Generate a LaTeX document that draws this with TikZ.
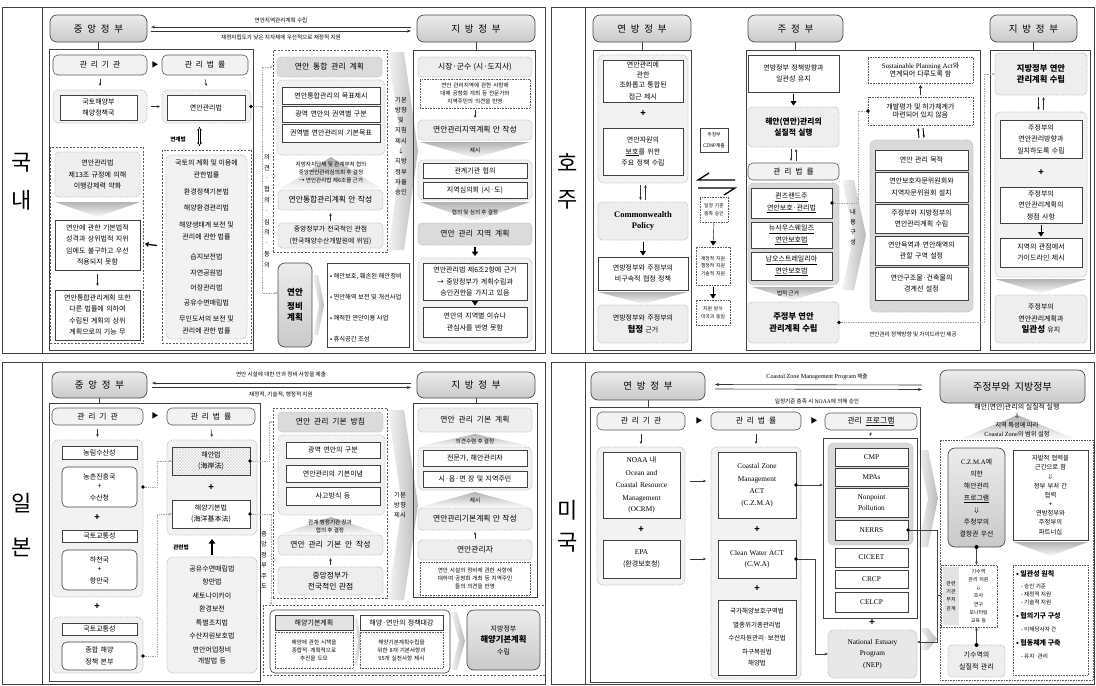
\documentclass[tikz,border=0pt]{standalone}
\usepackage{fontspec}
\setmainfont{Noto Sans CJK KR}
\newfontfamily\lat{Liberation Serif}
\usetikzlibrary{arrows.meta,patterns,calc}
\newcommand\fs{\fontsize{7}{11.5}\selectfont}
\newcommand\fsm{\fontsize{5.6}{8}\selectfont}
\newcommand\fxs{\fontsize{4.8}{6.5}\selectfont}
\newcommand\fm{\fontsize{7.8}{10}\selectfont}
\newcommand\ft{\fontsize{9.5}{11}\selectfont}
\newcommand\fbig{\fontsize{22}{22}\selectfont}
\newcommand\gp{\hspace{0.5em}}
\newcommand\bx[7]{%
  \pgfmathsetmacro\bcx{(#3+#5)/2}%
  \pgfmathsetmacro\bcy{(#4+#6)/2}%
  \pgfmathsetmacro\bw{#5-#3}%
  \pgfmathsetmacro\bh{#6-#4}%
  \pgfmathsetmacro\btw{max(\bw-3,2)}%
  \node[#1,minimum width=\bw pt,minimum height=\bh pt,text width=\btw pt] (#2) at (\bcx,\bcy) {#7};}
\newcommand\wdn[4]{\pgfmathsetmacro\wm{(#1+#3)/2}%
  \shade[top color=gray!60,bottom color=gray!4] (#1,#2) -- (#3,#2) -- (\wm,#4) -- cycle;}
\newcommand\wup[4]{\pgfmathsetmacro\wm{(#1+#3)/2}%
  \shade[top color=gray!60,bottom color=gray!4] (#1,#4) -- (#3,#4) -- (\wm,#2) -- cycle;}
\newcommand\chev[5]{\pgfmathsetmacro\chm{(#2+#4)/2}\pgfmathsetmacro\cha{#3-#5}\pgfmathsetmacro\chb{#1+#5}%
  \shade[left color=gray!8,right color=gray!55] (#1,#2) -- (\cha,#2) -- (#3,\chm) -- (\cha,#4) -- (#1,#4) -- (\chb,\chm) -- cycle;}
\newcommand\updn[2]{%
  \draw[sarr] ($(#1.south)+(-2.5,2)$) -- ($(#2.north)+(-2.5,-2)$);
  \draw[sarr] ($(#2.north)+(2.5,-2)$) -- ($(#1.south)+(2.5,2)$);}
\tikzset{
 base/.style={inner sep=0pt,outer sep=0pt,align=center,font=\fs},
 wb/.style={base,draw=black!75,fill=white,line width=0.6pt},
 wbr/.style={wb,rounded corners=5pt},
 gv/.style={base,draw=black!70,rounded corners=7pt,top color=gray!15,bottom color=gray!42,font=\ft,line width=0.7pt},
 hd/.style={base,draw=black!65,rounded corners=5pt,fill=gray!10,font=\fm,line width=0.6pt},
 lg/.style={base,draw=gray!55,densely dotted,rounded corners=4pt,fill=gray!13,line width=0.8pt},
 mg/.style={lg,fill=gray!28},
 dreg/.style={base,draw=gray!55,densely dotted,rounded corners=6pt,fill=gray!10,line width=0.8pt},
 dgreg/.style={dreg,fill=gray!30},
 dashbox/.style={base,draw=black!65,dash pattern=on 2pt off 1.5pt,line width=0.5pt},
 dotb/.style={base,draw=black!65,densely dotted,fill=white,line width=0.6pt,font=\fsm},
 frm/.style={base,draw=black!75,line width=0.6pt},
 txt/.style={base},
 pls/.style={base,font=\fontsize{9}{9}\selectfont\bfseries},
 stxt/.style={base,font=\fsm},
 big/.style={base,font=\fbig},
 sarr/.style={draw=black!80,line width=0.5pt,-{Stealth[length=3pt,width=2.6pt]}},
 tri/.style={draw=black,line width=0.4pt,-{Triangle[length=4.5pt,width=6pt]},shorten <=1.5pt,shorten >=1.5pt},
 fat/.style={draw=black,line width=1.8pt,-{Triangle[length=4.5pt,width=6.5pt]}},
 dotc/.style={draw=gray!70,densely dotted,line width=0.7pt},
 lnk/.style={draw=black!75,line width=0.6pt},
 harr/.style={draw=black!80,line width=0.6pt,-{Stealth[length=4pt,width=3pt]}},
}
\begin{document}
\begin{tikzpicture}[x=1pt,y=-1pt]
\useasboundingbox (0,0) rectangle (1096,686);
\fill[white] (0,0) rectangle (1096,686);

% ================= KOREA =================
\bx{frm,line width=0.9pt}{kPan}{2}{7}{545}{353}{}
\draw[lnk] (42,7) -- (42,353);
\node[big] (kN1) at (22,163) {국};
\node[big] (kN2) at (22,200) {내};
\wdn{55}{202}{140}{217}
\wup{280}{157}{382}{189}
\wdn{420}{142}{530}{158}
\wdn{420}{202}{530}{221}
\chev{388}{52}{418}{250}{14}
\chev{313}{275}{324}{335}{6}
\bx{gv}{kC}{50}{15}{147}{42}{중\gp 앙\gp 정\gp 부}
\bx{gv}{kL}{417}{15}{535}{42}{지\gp 방\gp 정\gp 부}
\draw[harr] ($(kL.west)+(-6,-1.5)$) -- ($(kC.east)+(4,-1.5)$);
\draw[harr] ($(kC.east)+(4,2.5)$) -- ($(kL.west)+(-6,2.5)$);
\node[stxt] (kA1) at (281,20) {연안지역관리계획 수립};
\node[stxt] (kA2) at (281,37) {재정자립도가 낮은 지자체에 우선적으로 재정적 지원};
\bx{frm}{kF}{49}{49}{253}{350}{}
\draw[lnk] (kC.south) -- (kC.south |- kF.north);
\bx{hd}{kH1}{53}{55}{147}{75}{관\gp 리\gp 기\gp 관}
\bx{hd}{kH2}{162}{55}{248}{75}{관\gp 리\gp 법\gp 률}
\node[base,font=\fontsize{7}{7}\selectfont] (kT1) at (155,65) {▶};
\bx{dreg}{kR1}{53}{90}{147}{123}{}
\bx{wb}{kMOF}{60}{95}{137}{120}{국토해양부\\해양정책국}
\bx{dreg}{kR2}{162}{90}{251}{123}{}
\bx{wb}{kLaw}{167}{95}{245}{120}{연안관리법}
\draw[sarr] (kH1.south) ++(0,4) -- ($(kR1.north)+(0,-4)$);
\draw[sarr] (kH2.south) ++(0,4) -- ($(kR2.north)+(0,-4)$);
\draw[sarr] ($(kR1.east)+(4,0)$) -- ($(kR2.west)+(-2,0)$);
\node[stxt,font=\fsm\bfseries] (kLk) at (178,139) {연계법};
\bx{dashbox}{kR3}{162}{150}{251}{343}{}
\bx{dreg}{kR3i}{166}{155}{247}{339}{}
\draw[{Implies}-{Implies},double,double distance=1.4pt,line width=0.5pt] ($(kR2.south)+(-7,4)$) -- ($(kR3.north)+(-7,-4)$);
\node[txt] (kt1) at (206.5,169) {국토의 계획 및 이용에\\관한법률};
\node[txt] (kt2) at (206.5,192) {환경정책기본법};
\node[txt] (kt3) at (206.5,208) {해양환경관리법};
\node[txt] (kt4) at (206.5,231) {해양생태계 보전 및\\관리에 관한 법률};
\node[txt] (kt5) at (206.5,257) {습지보전법};
\node[txt] (kt6) at (206.5,273) {자연공원법};
\node[txt] (kt7) at (206.5,288) {어장관리법};
\node[txt] (kt8) at (206.5,303) {공유수면매립법};
\node[txt] (kt9) at (206.5,325) {무인도서의 보전 및\\관리에 관한 법률};
\bx{dashbox}{kR4}{50}{147}{143}{343}{}
\bx{lg}{kB1}{55}{152}{140}{197}{연안관리법\\제13조 규정에 의해\\이행강제력 약화}
\bx{wb}{kB2}{55}{220}{140}{270}{연안에 관한 기본법적\\성격과 상위법적 지위\\임에도 불구하고 우선\\적용되지 못함}
\bx{wb}{kB3}{55}{290}{140}{340}{연안통합관리계획 또한\\다른 법률에 의하여\\수립된 계획의 상위\\계획으로의 기능 무}
\draw[sarr] ($(kB2.south)+(0,4)$) -- ($(kB3.north)+(0,-4)$);
\draw[draw=black,line width=1.3pt,-{Triangle[length=3.5pt,width=5pt]}] ($(kR3.west)+(-5,-1)$) -- ($(kR4.east)+(2,-1)$);
% middle
\bx{dashbox}{kP}{273}{50}{387}{252}{}
\bx{mg}{kP1}{277}{57}{382}{77}{\fm 연안\gp 통합\gp 관리\gp 계획}
\bx{dreg}{kP2}{277}{80}{385}{155}{}
\bx{wb}{kP3}{282}{87}{380}{104}{연안통합관리의 목표제시}
\bx{wb}{kP4}{282}{106}{380}{122}{광역 연안의 권역별 구분}
\bx{wb}{kP5}{282}{124}{380}{142}{권역별 연안관리의 기본목표}
\node[stxt] (kPt) at (331,172) {지방자치단체 및 관계부처 협의\\중앙연안관리심의회 후 결정\\→ 연안관리법 제6조를 근거};
\bx{lg}{kP6}{278}{190}{383}{210}{\fm 연안통합관리계획 안 작성}
\bx{lg}{kP7}{278}{223}{383}{248}{\fontsize{6.8}{11}\selectfont 중앙정부가 전국적인 관점\\(한국해양수산개발원에 위임)}
\draw[sarr] ($(kP7.north)+(0,-2)$) -- ($(kP6.south)+(0,3)$);
\node[base,font=\fontsize{6.3}{10.8}\selectfont] (kVt) at (267,211) {의\\견\\·\\협\\의\\·\\심\\의\\·\\동\\의};
\node[base,font=\fontsize{6.3}{10.3}\selectfont] (kCt) at (401,146) {기본\\방향\\및\\지침\\제시\\↓\\지방\\정부\\자율\\승인};
\bx{gv}{kJB}{278}{263}{312}{347}{\fontsize{8.5}{14}\selectfont\bfseries 연안\\정비\\계획}
\bx{wb}{kJB2}{327}{263}{409}{347}{}
\node[base,anchor=west,font=\fontsize{6.3}{8}\selectfont] (ki1) at (330,276) {• 해안보호, 훼손된 해안정비};
\node[base,anchor=west,font=\fontsize{6.3}{8}\selectfont] (ki2) at (330,297) {• 연안해역 보전 및 개선사업};
\node[base,anchor=west,font=\fontsize{6.3}{8}\selectfont] (ki3) at (330,318) {• 쾌적한 연안이용 사업};
\node[base,anchor=west,font=\fontsize{6.3}{8}\selectfont] (ki4) at (330,339) {• 휴식공간 조성};
\coordinate (kV) at (262,106.5);
\draw[dotc] (kR2.east) -- (kV);
\fill (kR2.east) circle (1.8pt);
\draw[dotc,-{Stealth[length=3pt]}] (kV) |- (kP.west |- kP1.west);
\draw[dotc,-{Stealth[length=3pt]}] (kV) |- ($(kJB.west)+(0,-12)$);
% local
\bx{frm}{kLF}{413}{50}{535}{350}{}
\draw[lnk] (kL.south) -- (kL.south |- kLF.north);
\bx{lg}{kL1}{418}{57}{532}{77}{\fm 시장·군수 (시·도지사)}
\bx{dotb}{kL2}{420}{79}{530}{108}{연안 관리지역에 관한 사항에\\대해 공청회 개최 등 전문가와\\지역주민의 의견을 반영}
\bx{lg}{kL3}{418}{120}{532}{140}{\fm 연안관리지역계획 안 작성}
\draw[sarr] ($(kL2.south)+(0,2)$) -- ($(kL3.north)+(0,-2)$);
\node[stxt] (kLt1) at (475,150) {제시};
\bx{dreg}{kL4}{418}{160}{532}{200}{}
\bx{wb}{kL5}{423}{163}{527}{178}{관계기관 협의}
\bx{wb}{kL6}{423}{182}{527}{198}{지역심의회 (시·도)}
\node[stxt] (kLt2) at (475,212) {협의 및 심의 후 결정};
\bx{mg}{kL7}{418}{223}{532}{245}{\fm 연안\gp 관리\gp 지역\gp 계획}
\bx{dreg}{kL8}{418}{258}{532}{343}{}
\draw[fat] ($(kL7.south)+(0,2)$) -- ($(kL8.north)+(0,-2)$);
\bx{wb}{kL9}{423}{263}{527}{300}{연안관리법 제6조2항에 근거\\→ 중앙정부가 계획수립과\\승인권한을 가지고 있음}
\bx{wb}{kL10}{423}{307}{527}{337}{연안의 지역별 이슈나\\관심사를 반영 못함}
\draw[tri] (kL9.south) -- (kL10.north);

% ================= AUSTRALIA =================
\bx{frm,line width=0.9pt}{aPan}{551}{7}{1094}{353}{}
\draw[lnk] (585,7) -- (585,353);
\node[big] (aN1) at (568,163) {호};
\node[big] (aN2) at (568,200) {주};
\wdn{598}{292}{688}{304}
\wdn{752}{287}{835}{300}
\wdn{995}{279}{1087}{293}
\chev{842}{180}{866}{290}{12}
\bx{gv}{aF}{593}{15}{691}{42}{연\gp 방\gp 정\gp 부}
\bx{gv}{aS}{748}{15}{843}{42}{주\gp 정\gp 부}
\bx{gv}{aL}{990}{15}{1077}{42}{지\gp 방\gp 정\gp 부}
\bx{frm}{aFF}{593}{50}{691}{350}{}
\bx{frm}{aSF}{746}{50}{980}{350}{}
\bx{frm}{aLF}{990}{50}{1090}{350}{}
\draw[lnk] (aF.south) -- (aFF.north);
\draw[lnk] (aS.south) -- (aS.south |- aSF.north);
\draw[lnk] (aL.south) -- (aL.south |- aLF.north);
% federal
\bx{dreg}{aF1}{598}{55}{688}{183}{}
\bx{wb}{aF2}{603}{60}{683}{102}{\fontsize{7}{10}\selectfont 연안관리에\\관한\\조화롭고 통합된\\접근 제시}
\node[pls] (aP1) at (643,114) {+};
\bx{wb}{aF3}{603}{128}{683}{175}{연안자원의\\\underline{보호}를 위한\\주요 정책 수립}
\bx{lg}{aF4}{598}{202}{688}{240}{\lat\bfseries\fontsize{8.5}{13}\selectfont Commonwealth\\Policy}
\updn{aF1}{aF4}
\bx{wb}{aF5}{598}{257}{688}{290}{연방정부와 주정부의\\비구속적 협정 정책}
\draw[tri] (aF4.south) -- (aF5.north);
\bx{lg}{aF6}{598}{305}{688}{343}{연방정부와 주정부의\\{\fontsize{8.5}{12}\selectfont\bfseries 협정} 근거}
% middle
\bx{wb}{aM1}{700}{128}{728}{152}{\fxs 주정부\\CZMP제출}
\draw[line width=1.3pt] (735,180) -- (698,180) -- (709,173);
\draw[line width=1.3pt] (698,188) -- (735,188) -- (724,195);
\bx{dotb}{aM2}{700}{197}{728}{222}{\fxs 일정 기준\\충족 승인}
\bx{dotb}{aM3}{696}{247}{730}{285}{\fxs 재정적 지원\\행정적 지원\\기술적 지원}
\bx{dotb}{aM4}{696}{300}{730}{325}{\fxs 지원 방식\\미국과 동일}
\draw[tri] (aM2.south) -- (aM3.north);
\draw[tri] (aM3.south) -- (aM4.north);
% state
\bx{wb}{aS1}{748}{55}{839}{92}{연방정부 정책방향과\\일관성 유지}
\bx{lg}{aS2}{748}{107}{839}{147}{\fontsize{7.8}{13}\selectfont\bfseries 해안(연안)관리의\\실질적 실행}
\draw[tri] (aS1.south) -- (aS2.north);
\bx{hd}{aS3}{748}{163}{839}{180}{관\gp 리\gp 법\gp 률}
\updn{aS2}{aS3}
\bx{dgreg}{aS4}{748}{183}{839}{285}{}
\bx{wb}{aS5}{751}{188}{832}{218}{\underline{퀸즈랜드주}\\\underline{연안보호·관리법}}
\bx{wb}{aS6}{751}{222}{832}{248}{\underline{뉴사우스웨일즈}\\\underline{연안보호법}}
\bx{wb}{aS7}{751}{252}{832}{280}{\underline{남오스트레일리아}\\\underline{연안보호법}}
\node[stxt] (aSt) at (788,293) {법적 근거};
\bx{lg}{aS8}{748}{302}{839}{343}{\fontsize{8.3}{13}\selectfont\bfseries 주정부 연안\\관리계획 수립}
\node[base,font=\fontsize{6.3}{10}\selectfont] (aSc) at (853,227) {내\\용\\구\\성};
\bx{dotb}{aS9}{868}{57}{973}{83}{\fs{\lat Sustainable Planning Act}와\\연계되어 다루도록 함}
\bx{dotb}{aS10}{868}{97}{973}{125}{\fs 개발평가 및 허가체계가\\마련되어 있지 않음}
\draw[sarr,-{Triangle[length=3pt,width=3.5pt]}] ($(aS10.north)+(0,-2)$) -- ($(aS9.south)+(0,2)$);
\bx{dgreg}{aS11}{870}{140}{973}{312}{}
\draw[line width=0.9pt,-{Stealth[length=3pt]}] ($(aS11.north)+(-2.5,-2)$) -- ($(aS10.south)+(-2.5,3)$);
\draw[line width=0.9pt,-{Stealth[length=3pt]}] ($(aS10.south)+(2.5,3)$) -- ($(aS11.north)+(2.5,-2)$);
\bx{wb}{aS12}{875}{150}{968}{170}{연안 관리 목적}
\bx{wb}{aS13}{875}{172}{968}{202}{연안보호자문위원회와\\지역자문위원회 설치}
\bx{wb}{aS14}{875}{204}{968}{233}{주정부와 지방정부의\\연안관리계획 수립}
\bx{wb}{aS15}{875}{236}{968}{265}{연안육역과 연안해역의\\관할 구역 설정}
\bx{wb}{aS16}{875}{267}{968}{300}{연안구조물·건축물의\\경계선 설정}
\draw[dotc] (aS5.east) -- ++(26,0) |- (aS10.west);
\fill (aS5.east) circle (1.8pt);
\fill (aS10.west) circle (1.8pt);
\node[stxt] (aSg) at (913,334) {연안관리 정책방향 및 가이드라인 제공};
% local
\bx{lg}{aL1}{995}{53}{1087}{95}{\fontsize{8.3}{13}\selectfont\bfseries 지방정부 연안\\관리계획 수립}
\bx{dreg}{aL2}{995}{112}{1087}{277}{}
\updn{aL1}{aL2}
\bx{wb}{aL3}{1000}{120}{1082}{158}{주정부의\\연안관리방향과\\일치하도록 수립}
\node[pls] (aP2) at (1041,173) {+};
\bx{wb}{aL4}{1000}{187}{1082}{223}{주정부의\\연안관리계획의\\쟁점 사항}
\bx{wb}{aL5}{1000}{238}{1082}{267}{지역의 관점에서\\가이드라인 제시}
\draw[tri] (aL4.south) -- (aL5.north);
\bx{lg}{aL6}{995}{295}{1087}{343}{주정부의\\연안관리계획과\\{\fontsize{8.5}{12}\selectfont\bfseries 일관성} 유지}
\draw[dotc,-{Stealth[length=3pt]}] (aS8.east) -- ($(aS8.east)+(145,0)$) |- (aL1.west);
\fill (aS8.east) circle (1.8pt);

% ================= JAPAN =================
\bx{frm,line width=0.9pt}{jPan}{2}{362}{545}{684}{}
\draw[lnk] (42,362) -- (42,684);
\node[big] (jN1) at (22,503) {일};
\node[big] (jN2) at (22,547) {본};
\wup{280}{517}{382}{534}
\wup{420}{434}{530}{446}
\wup{420}{492}{530}{507}
\chev{388}{410}{418}{600}{14}
\chev{354}{618}{361}{665}{4}
\chev{451}{612}{465}{670}{8}
\bx{gv}{jC}{52}{372}{147}{398}{중\gp 앙\gp 정\gp 부}
\bx{gv}{jL}{417}{372}{535}{398}{지\gp 방\gp 정\gp 부}
\draw[harr] ($(jL.west)+(-6,-2)$) -- ($(jC.east)+(5,-2)$);
\draw[harr] ($(jC.east)+(5,2.5)$) -- ($(jL.west)+(-6,2.5)$);
\node[stxt] (jA1) at (281,374) {연안 시설에 대한 안과 정비 사항을 제출};
\node[stxt] (jA2) at (281,395) {재정적, 기술적, 행정적 지원};
\bx{frm}{jF}{49}{403}{260}{681}{}
\draw[lnk] (jC.south) -- (jC.south |- jF.north);
\bx{hd}{jH1}{52}{408}{143}{425}{관\gp 리\gp 기\gp 관}
\bx{hd}{jH2}{167}{408}{255}{425}{관\gp 리\gp 법\gp 률}
\node[base,font=\fontsize{7}{7}\selectfont] (jT1) at (155,416) {▶};
\bx{dreg}{jR1}{52}{440}{143}{597}{}
\bx{dreg}{jR3}{167}{440}{257}{535}{}
\draw[sarr] ($(jH1.south)+(0,4)$) -- ($(jR1.north)+(0,-3)$);
\draw[sarr] ($(jH2.south)+(0,4)$) -- ($(jR3.north)+(0,-3)$);
\bx{wb}{j1}{62}{446}{137}{459}{농림수산성}
\bx{wbr}{j2}{62}{467}{137}{507}{\fontsize{7}{9.5}\selectfont 농촌진흥국\\+\\수산청}
\node[pls] (jP1t) at (97,518) {+};
\bx{wb}{j3}{62}{530}{137}{542}{국토교통성}
\bx{wbr}{j4}{62}{550}{137}{590}{\fontsize{7}{9.5}\selectfont 하천국\\+\\항만국}
\node[pls] (jP2t) at (97,607) {+};
\bx{dreg}{jR2}{52}{617}{143}{673}{}
\bx{wb}{j5}{62}{623}{137}{635}{국토교통성}
\bx{wbr}{j6}{62}{642}{137}{670}{\fontsize{7}{10.5}\selectfont 종합 해양\\정책 본부}
\bx{wb,preaction={fill=white},pattern=crosshatch,pattern color=gray!30}{j7}{172}{447}{250}{475}{해안법\\(海岸法)}
\node[pls] (jP3t) at (211,488) {+};
\bx{wb}{j8}{172}{500}{250}{528}{해양기본법\\(海洋基本法)}
\draw[dotc,-{Stealth[length=3pt]}] (jR1.east |- j2.east) -- ++(14,0) |- (j7.west);
\fill (jR1.east |- j2.east) circle (1.8pt);
\draw[dotc,-{Stealth[length=3pt]}] (jR2.east |- j6.east) -- ++(14,0) |- (j8.west);
\fill (jR2.east |- j6.east) circle (1.8pt);
\node[stxt,font=\fsm\bfseries] (jRl) at (181,547) {관련법};
\bx{dreg}{jR4}{167}{557}{257}{673}{\fontsize{7}{13.5}\selectfont 공유수면매립법\\항만법\\세토나이카이\\환경보전\\특별조치법\\수산자원보호법\\연안어업정비\\개발법 등}
\draw[fat] ($(jR4.north)+(0,-2)$) -- ($(jR3.south)+(0,4)$);
\bx{dashbox}{jP}{273}{408}{387}{598}{}
\bx{mg}{jP1}{278}{412}{383}{432}{\fm 연안\gp 관리\gp 기본\gp 방침}
\bx{dreg}{jP2}{278}{435}{385}{515}{}
\bx{wb}{jP3}{286}{442}{380}{458}{광역 연안의 구분}
\bx{wb}{jP4}{286}{465}{380}{482}{연안관리의 기본이념}
\bx{wb}{jP5}{286}{487}{380}{505}{사고방식 등}
\node[stxt] (jPt) at (330,526) {관계 행정기관 장과\\협의 후 결정};
\bx{lg}{jP6}{278}{535}{383}{555}{\fm 연안\gp 관리\gp 기본\gp 안\gp 작성}
\bx{lg}{jP7}{278}{567}{383}{595}{\fm 중앙정부가\\전국적인 관점}
\draw[sarr] ($(jP7.north)+(0,-2)$) -- ($(jP6.south)+(0,3)$);
\draw[dotc,-{Stealth[length=3pt]}] (j7.east) -- ++(19,0) |- (jP.west |- jP1.west);
\fill (j7.east) circle (1.8pt);
\node[base,font=\fontsize{6.3}{10.5}\selectfont] (jVt) at (264,560) {중\\앙\\정\\부\\주\\도};
\bx{dashbox}{jB}{263}{605}{545}{675}{}
\draw[dotc,-{Stealth[length=3pt]}] (j8.east) -| ($(jB.north west)+(8,0)$);
\fill (j8.east) circle (1.8pt);
\node[base,font=\fontsize{6.3}{10}\selectfont] (jCt) at (400,505) {기본\\방향\\제시};
\bx{frm}{jLF}{413}{403}{537}{597}{}
\draw[lnk] (jL.south) -- (jL.south |- jLF.north);
\bx{lg}{jL1}{418}{408}{532}{432}{\fm 연안\gp 관리\gp 기본\gp 계획}
\node[stxt] (jLt1) at (475,441) {의견수렴 후 결정};
\bx{dreg}{jL2}{418}{447}{532}{490}{}
\bx{wb}{jL3}{423}{450}{527}{466}{전문가, 해안관리자}
\bx{wb}{jL4}{423}{471}{527}{487}{시·읍·면 장 및 지역주민}
\node[stxt] (jLt2) at (475,500) {제시};
\bx{lg}{jL5}{418}{508}{532}{530}{\fm 연안관리기본계획 안 작성}
\bx{lg}{jL6}{418}{540}{532}{560}{\fm 연안관리자}
\draw[sarr] ($(jL6.north)+(0,-1)$) -- ($(jL5.south)+(0,2)$);
\bx{dotb}{jL7}{420}{562}{530}{595}{연안 시설의 정비에 관한 사항에\\대하여 공청회 개최 등 지역주민\\들의 의견을 반영}
\bx{frm,rounded corners=5pt}{jB1}{270}{610}{450}{673}{}
\bx{wb,fill=gray!22}{jB2}{275}{615}{353}{630}{해양기본계획}
\bx{dotb}{jB3}{275}{632}{353}{668}{해양에 관한 시책을\\종합적·계획적으로\\추진을 도모}
\bx{wb}{jB4}{360}{615}{443}{630}{해양·연안의 정책대강}
\bx{dotb}{jB5}{360}{632}{443}{668}{해양기본계획수립을\\위한 8개 기본사항과\\95개 실천사항 제시}
\bx{gv,font=\fs}{jB6}{467}{610}{540}{670}{지방정부\\{\fontsize{8.3}{12}\selectfont\bfseries 해양기본계획}\\수립}

% ================= USA =================
\bx{frm,line width=0.9pt}{uPan}{551}{362}{1094}{684}{}
\draw[lnk] (585,362) -- (585,684);
\node[big] (uN1) at (568,510) {미};
\node[big] (uN2) at (568,543) {국};
\wdn{1013}{542}{1088}{556}
\wup{960}{415}{1075}{439}
\chev{918}{450}{938}{547}{10}
\chev{919}{628}{937}{650}{9}
\bx{gv}{uF}{591}{372}{705}{400}{연\gp 방\gp 정\gp 부}
\bx{gv,font=\fontsize{10}{12}\selectfont}{uS}{940}{370}{1085}{403}{주정부와\gp 지방정부}
\draw[harr] ($(uS.west)+(-18,-1.5)$) -- ($(uF.east)+(10,-1.5)$);
\draw[harr] ($(uF.east)+(10,3)$) -- ($(uS.west)+(-18,3)$);
\node[stxt] (uA1) at (817,377) {{\lat\fontsize{6.2}{8}\selectfont Coastal Zone Management Program} 제출};
\node[stxt] (uA2) at (817,401) {일정기준 충족 시 {\lat NOAA}에 의해 승인};
\bx{frm}{uFF}{590}{407}{920}{682}{}
\draw[lnk] (uF.south) -- (uF.south |- uFF.north);
\bx{hd}{uH1}{597}{412}{685}{430}{관\gp 리\gp 기\gp 관}
\bx{hd}{uH2}{711}{412}{801}{430}{관\gp 리\gp 법\gp 률}
\bx{hd}{uH3}{825}{413}{917}{430}{관리\gp \underline{프로그램}}
\node[base,font=\fontsize{7}{7}\selectfont] (uT1) at (699,421) {▶};
\node[base,font=\fontsize{7}{7}\selectfont] (uT2) at (814,421) {▶};
\bx{dreg}{uR1}{597}{447}{685}{585}{}
\bx{dreg}{uR2}{711}{447}{801}{679}{}
\bx{frm}{uR3}{823}{438}{917}{618}{}
\draw[sarr] ($(uH1.south)+(0,4)$) -- ($(uR1.north)+(0,-3)$);
\draw[sarr] ($(uH2.south)+(0,4)$) -- ($(uR2.north)+(0,-3)$);
\draw[sarr] ($(uH3.south)+(0,2)$) -- ($(uR3.north)+(0,-2)$);
\bx{wb}{u1}{603}{452}{680}{518}{\lat\fontsize{7.3}{12.5}\selectfont NOAA {\rmfamily\fs 내}\\Ocean and\\Coastal Resource\\Management\\(OCRM)}
\node[pls] (uP1) at (641,530) {+};
\bx{wb}{u2}{603}{540}{680}{578}{{\lat\fontsize{7.3}{12}\selectfont EPA}\\(환경보호청)}
\bx{wb}{u3}{718}{452}{796}{518}{\lat\fontsize{7.3}{12.5}\selectfont Coastal Zone\\Management\\ACT\\(C.Z.M.A)}
\node[pls] (uP2) at (757,530) {+};
\bx{wb}{u4}{718}{540}{796}{578}{\lat\fontsize{7.3}{12}\selectfont Clean Water ACT\\(C.W.A)}
\node[pls] (uP3) at (757,589) {+};
\bx{wb}{u5}{718}{600}{796}{675}{\fontsize{6.5}{13.5}\selectfont 국가해양보호구역법\\멸종위기종관리법\\수산자원관리·보전법\\하구복원법\\해양법}
\draw[sarr] ($(uR1.east |- u1.east)+(5,-4)$) -- ($(uR2.west |- u1.east)+(-5,-4)$);
\draw[sarr] ($(uR1.east |- u2.east)+(5,0)$) -- ($(uR2.west |- u2.east)+(-5,0)$);
\bx{dgreg}{uR4}{828}{443}{913}{545}{}
\bx{wb}{u6}{835}{448}{908}{466}{\lat\fontsize{7.3}{10}\selectfont CMP}
\bx{wb}{u7}{835}{468}{908}{486}{\lat\fontsize{7.3}{10}\selectfont MPAs}
\bx{wb}{u8}{835}{488}{908}{517}{\lat\fontsize{7.3}{11}\selectfont Nonpoint\\Pollution}
\bx{wb}{u9}{835}{520}{908}{540}{\lat\fontsize{7.3}{10}\selectfont NERRS}
\bx{wb}{u10}{835}{548}{908}{567}{\lat\fontsize{7.3}{10}\selectfont CICEET}
\bx{wb}{u11}{835}{570}{908}{588}{\lat\fontsize{7.3}{10}\selectfont CRCP}
\bx{wb}{u12}{835}{592}{908}{612}{\lat\fontsize{7.3}{10}\selectfont CELCP}
\node[pls] (uP4) at (872,623) {+};
\bx{dgreg,fill=gray!18}{uNEP}{828}{630}{917}{678}{\lat\fontsize{7.3}{11.5}\selectfont National Estuary\\Program\\(NEP)}
\draw[lnk,-{Stealth[length=3.5pt]}] (u3.east) -- (u3.east -| uR3.west);
\fill (u3.east) circle (1.8pt);
\draw[lnk,-{Stealth[length=3.5pt]}] (u4.east) -- ++(19,0) |- (uNEP.west);
\fill (u4.east) circle (1.8pt);
\draw[lnk,-{Stealth[length=3.5pt]}] (u9.east) -- (937,530) |- ($(uNEP.east)+(0,-12)$);
\fill (u9.east) circle (1.8pt);
% right side
\node[base,font=\fontsize{7}{8}\selectfont] (uS1) at (1017,407) {해안(연안)관리의 실질적 실행};
\node[base,font=\fontsize{6.5}{8}\selectfont] (uS2) at (1017,416) {$\Downarrow$};
\node[base,font=\fontsize{6.3}{9}\selectfont] (uS3) at (1017,430) {지역 특성에 따라\\{\lat Coastal Zone}의 범위 설정};
\bx{base,draw=black!65,densely dotted,line width=0.6pt}{uD}{940}{440}{1093}{680}{}
\bx{gv,font=\fontsize{6.8}{12}\selectfont}{uD1}{948}{448}{1005}{547}{{\lat C.Z.M.A}에\\의한\\해안관리\\\underline{프로그램}\\$\Downarrow$\\주정부의\\결정권 우선}
\bx{wb,font=\fontsize{6.3}{9.2}\selectfont}{uD2}{1013}{450}{1088}{540}{자발적 협력을\\근간으로 함\\$\Downarrow$\\정부 부처 간\\협력\\+\\연방정부와\\주정부의\\파트너십}
\bx{base,draw=black!65,densely dotted,line width=0.6pt}{uX}{941}{565}{997}{627}{}
\bx{base,fill=gray!22,font=\fontsize{5}{8.2}\selectfont}{uX1}{943}{567}{959}{625}{관련\\기관\\부처\\관계}
\bx{base,font=\fontsize{5}{8.2}\selectfont}{uX2}{961}{567}{996}{625}{기수역\\관리 지원\\$\Downarrow$\\조사\\연구\\모니터링\\교육 등}
\draw[lnk] (937,595) -- (uX.west |- 0,595);
\bx{lg}{uD3}{948}{645}{1005}{677}{기수역의\\실질적 관리}
\draw[lnk,-{Stealth[length=3.5pt]}] (uD1.south) -- (uD1.south |- uX.north);
\fill (uD1.south) circle (2pt);
\draw[lnk,-{Stealth[length=3.5pt]}] (uD3.north) -- (uD3.north |- uX.south);
\fill (uD3.north) circle (2pt);
\bx{dotb}{uD4}{1013}{565}{1088}{675}{}
\node[txt,anchor=west,font=\fs\bfseries] (ub1) at (1016,574) {• 일관성 원칙};
\node[stxt,anchor=west] (ub2) at (1021,586) {- 승인 기준};
\node[stxt,anchor=west] (ub3) at (1021,594) {- 재정적 지원};
\node[stxt,anchor=west] (ub4) at (1021,602) {- 기술적 지원};
\node[txt,anchor=west,font=\fs\bfseries] (ub5) at (1016,616) {• 협의기구 구성};
\node[stxt,anchor=west] (ub6) at (1021,629) {- 이해당사자 간};
\node[txt,anchor=west,font=\fs\bfseries] (ub7) at (1016,643) {• 협동체계 구축};
\node[stxt,anchor=west] (ub8) at (1021,656) {- 유지·관리};
\end{tikzpicture}
\end{document}
